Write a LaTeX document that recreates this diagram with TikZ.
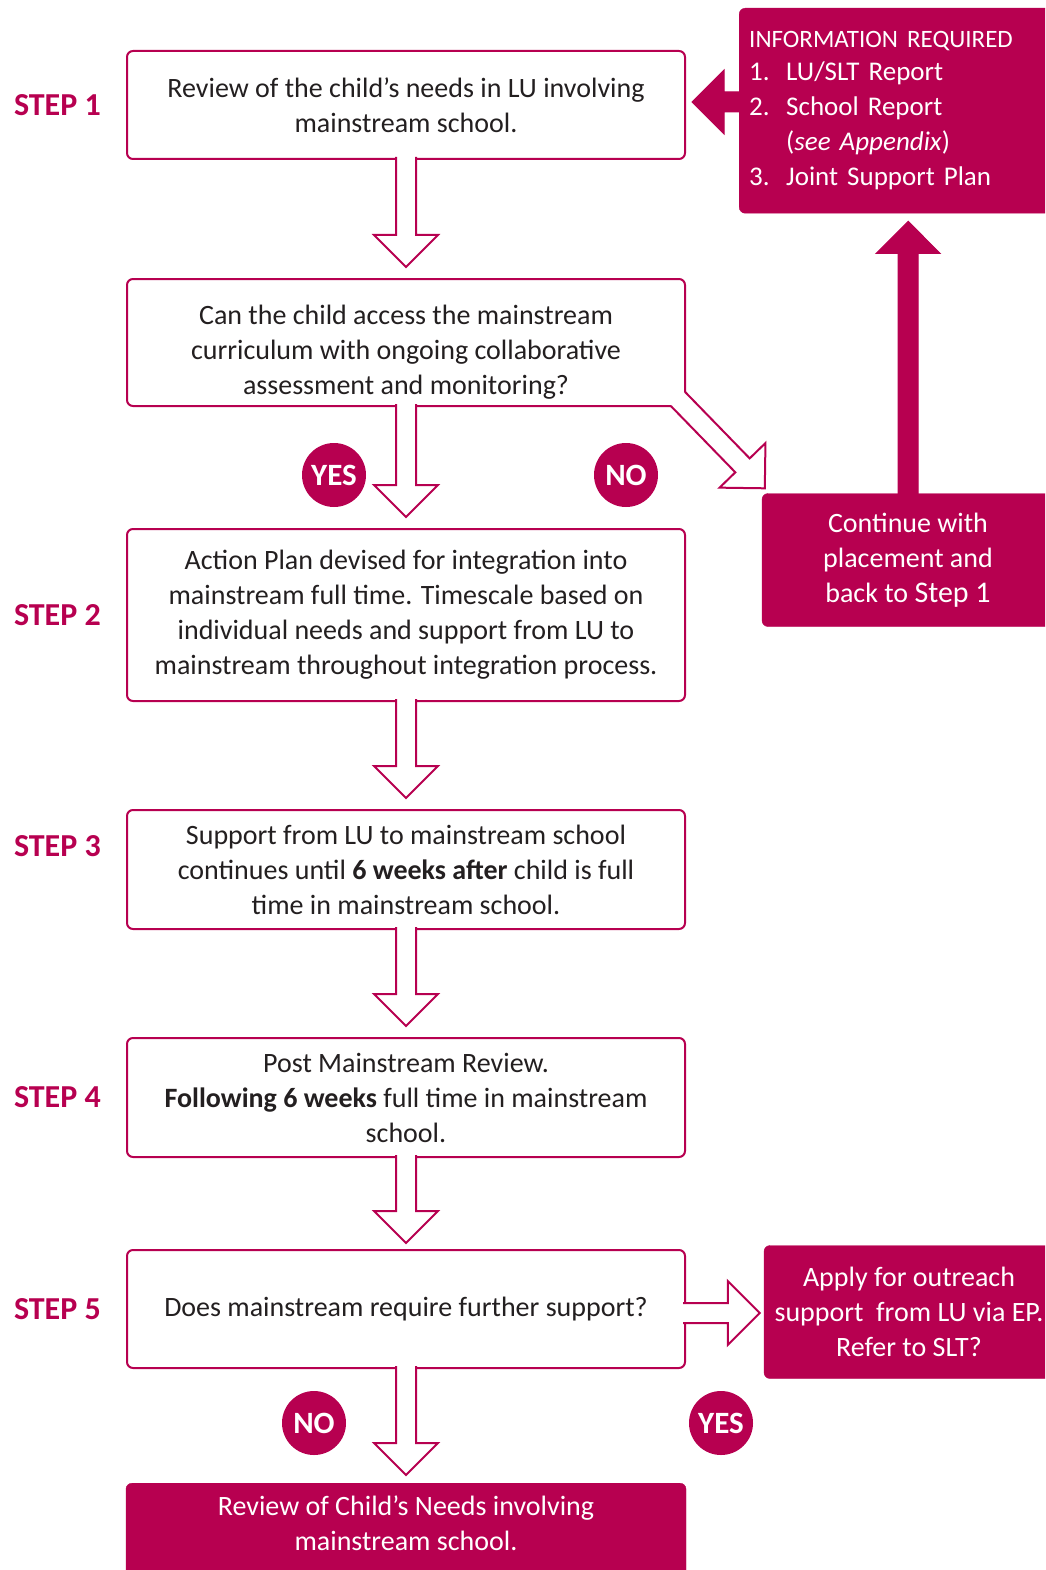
\documentclass[tikz,border=0pt]{standalone}
\usepackage{fontspec}
\setmainfont{Carlito}
\usetikzlibrary{calc, positioning}
\definecolor{lumagenta}{RGB}{183,0,80}
\definecolor{textgrey}{RGB}{35,31,32}

% block arrow from #2 to the tip #3
\newcommand{\blockarrow}[3][hollowarrow]{%
  \coordinate (ba-head) at ($(#3)!32pt!(#2)$);
  \filldraw[#1] ($(#2)!10pt!90:(#3)$) -- ($(ba-head)!10pt!90:(#3)$)
    -- ($(ba-head)!32pt!90:(#3)$) -- (#3) -- ($(ba-head)!32pt!-90:(#3)$)
    -- ($(ba-head)!10pt!-90:(#3)$) -- ($(#2)!10pt!-90:(#3)$);
}

\tikzset{
  stepbox/.style={draw=lumagenta, line width=2pt, rounded corners=6pt, fill=white,
    text=textgrey, align=center, minimum width=558pt, inner sep=0pt,
    font=\fontsize{28}{35}\selectfont},
  pinkbox/.style={draw=lumagenta, fill=lumagenta, rounded corners=6pt, text=white,
    align=center, inner sep=0pt, font=\fontsize{28}{35}\selectfont},
  steplabel/.style={text=lumagenta, inner sep=0pt, font=\bfseries\fontsize{32}{32}\selectfont},
  answer/.style={circle, fill=lumagenta, text=white, minimum size=64pt, inner sep=0pt,
    font=\bfseries\fontsize{31}{31}\selectfont},
  hollowarrow/.style={draw=lumagenta, fill=white, line width=2pt},
  solidarrow/.style={draw=lumagenta, fill=lumagenta, line width=1pt},
}

\begin{document}
\begin{tikzpicture}[x=1pt, y=-1pt]
    \useasboundingbox (0,0) rectangle (1045,1570);
    \clip (0,0) rectangle (1045,1570);

    % Main steps
    \node (review) [stepbox, minimum height=108pt] at (406,105)
        {Review of the child’s needs in LU involving\\mainstream school.};
    \node (access) [stepbox, minimum height=127pt, below=118pt of review]
        {\rule{0pt}{38pt}Can the child access the mainstream\\curriculum with ongoing collaborative\\assessment and monitoring?};
    \node (plan) [stepbox, minimum height=172pt, below=121pt of access]
        {Action Plan devised for integration into\\mainstream full time. Timescale based on\\individual needs and support from LU to\\mainstream throughout integration process.};
    \node (support) [stepbox, minimum height=119pt, below=107pt of plan]
        {Support from LU to mainstream school\\continues until \textbf{6 weeks after} child is full\\time in mainstream school.};
    \node (postreview) [stepbox, minimum height=119pt, below=107pt of support]
        {Post Mainstream Review.\\\textbf{Following 6 weeks} full time in mainstream\\school.};
    \node (further) [stepbox, minimum height=118pt, below=91pt of postreview]
        {Does mainstream require further support?};
    \node (final) [pinkbox, minimum width=560pt, minimum height=100pt, text depth=21pt,
        below=114pt of further]
        {Review of Child’s Needs involving\\mainstream school.};

    % Step labels
    \node (step1) [steplabel, left=25pt of review] {STEP 1};
    \node (step2) [steplabel, left=25pt of plan] {STEP 2};
    \node (step3) [steplabel, left=25pt of support, yshift=23pt] {STEP 3};
    \node (step4) [steplabel, left=25pt of postreview] {STEP 4};
    \node (step5) [steplabel, left=25pt of further] {STEP 5};

    % Right column
    \node (info) [pinkbox, anchor=north west, text width=318pt, inner sep=10pt,
        minimum height=205pt, align=left, font=\fontsize{27}{35}\selectfont] at (739,8)
        {{\fontsize{25}{35}\selectfont INFORMATION REQUIRED}\\[-2pt]
         \makebox[37pt][l]{1.}LU/SLT Report\\
         \makebox[37pt][l]{2.}School Report\\
         \makebox[37pt][l]{}(\textit{see Appendix})\\
         \makebox[37pt][l]{3.}Joint Support Plan};
    \node (cont) [pinkbox, minimum width=292pt, minimum height=133pt] at (908,560)
        {Continue with\\placement and\\back to {\fontsize{30}{35}\selectfont Step 1}};
    \node (apply) [pinkbox, minimum width=290pt, minimum height=133pt] at (909,1312)
        {Apply for outreach\\support\ \ from LU via EP.\\Refer to SLT?};

    % Answers
    \node (yes1) [answer] at (334,475) {YES};
    \node (no1) [answer] at (626,475) {NO};
    \node (no2) [answer] at (314,1423) {NO};
    \node (yes2) [answer] at (721,1423) {YES};

    % Arrows down the steps
    \foreach \a/\b/\g in {review/access/11, access/plan/11, plan/support/11,
        support/postreview/11, postreview/further/6, further/final/8} {
        \coordinate (s) at ($(\a.south)+(0,-3)$);
        \coordinate (t) at ($(\b.north)+(0,-\g)$);
        \blockarrow{s}{t}
    }

    % NO branch and YES branch
    \coordinate (ds) at ($(access.south east)+(-8,-8)$);
    \coordinate (dt) at ($(cont.north west)+(3,-5)$);
    \blockarrow{ds}{dt}
    \coordinate (rs) at ($(further.east)+(-3,4)$);
    \coordinate (rt) at ($(apply.west |- rs)+(-4,0)$);
    \blockarrow{rs}{rt}

    % Back to step 1
    \coordinate (us) at ($(cont.north)+(0,3)$);
    \coordinate (ut) at ($(info.south)+(0,8)$);
    \blockarrow[solidarrow]{us}{ut}
    \coordinate (ls) at ($(info.west |- review.east)+(3,-3)$);
    \coordinate (lt) at ($(review.east)+(6,-3)$);
    \blockarrow[solidarrow]{ls}{lt}
\end{tikzpicture}
\end{document}
